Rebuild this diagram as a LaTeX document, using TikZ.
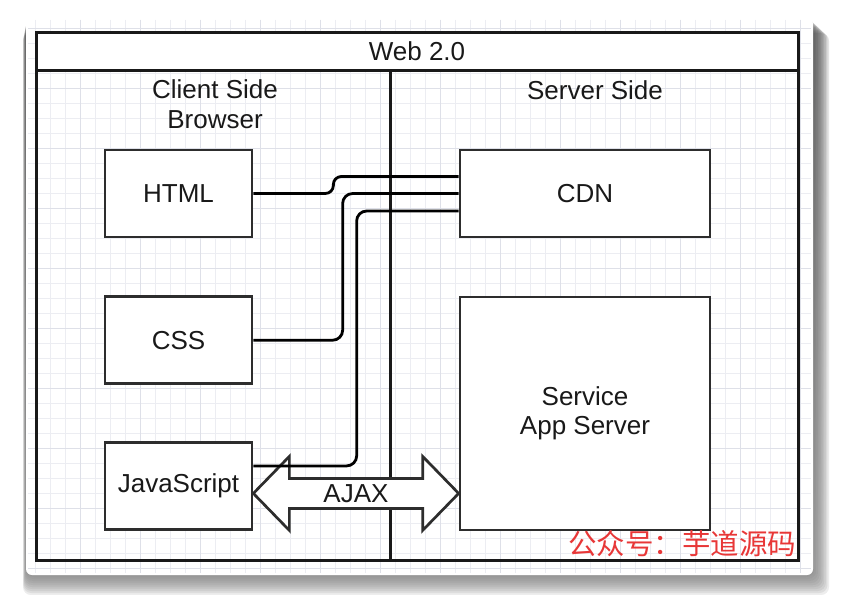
\documentclass[tikz,border=0pt]{standalone}
\usepackage{fontspec}
\setmainfont{Liberation Sans}
\newfontfamily\cjkfont{Noto Sans CJK SC}
\usetikzlibrary{arrows.meta, positioning, calc}
\definecolor{ink}{RGB}{25, 25, 25}
\definecolor{boxgray}{RGB}{45, 45, 45}
\definecolor{gridminor}{RGB}{236, 237, 242}
\definecolor{gridmajor}{RGB}{222, 224, 232}
\definecolor{shade}{RGB}{95, 125, 135}
\definecolor{wmred}{RGB}{232, 55, 55}
\tikzset{
    labelfont/.style={font=\fontsize{26}{29.5}\selectfont, text=ink},
    box/.style={labelfont, draw=boxgray, line width=2.7pt, fill=white, minimum width=147pt, minimum height=87pt, inner sep=0pt},
    wire/.style={line width=2.8pt, rounded corners=8pt},
    frame/.style={draw=ink, line width=3pt}
}

\begin{document}
\begin{tikzpicture}[x=1pt, y=-1pt]
        \useasboundingbox (0,0) rectangle (853,594);

        % card with its shadow
        \foreach \i in {1,...,10}
            \fill[shade, opacity=0.08, rounded corners=8pt] (26-0.3*\i, 18+1.5*\i) rectangle (813+1.6*\i, 575+2*\i);
        \fill[white, rounded corners=6pt] (26,18) rectangle (813,575);

        % grid paper
        \foreach \x in {35,50,...,800}
            \draw[gridminor, line width=0.8pt] (\x,20) -- (\x,573);
        \foreach \y in {28,43,...,568}
            \draw[gridminor, line width=0.8pt] (28,\y) -- (811,\y);
        \foreach \x in {80,140,...,800}
            \draw[gridmajor, line width=0.8pt] (\x,20) -- (\x,573);
        \foreach \y in {28,88,...,568}
            \draw[gridmajor, line width=0.8pt] (28,\y) -- (811,\y);

        % pool and lanes
        \node[frame, fill=white, minimum width=762pt, minimum height=37pt, labelfont, inner sep=0pt] (title) at (417,51.5) {Web 2.0};
        \node[frame, minimum width=762pt, minimum height=490pt] (pool) at (417,315) {};
        \coordinate (split) at (390,70);
        \draw[frame] (split) -- (split |- pool.south);
        \node[labelfont, align=center] (client) at (215,104) {Client Side\\Browser};
        \node[labelfont] (server) at (595,90) {Server Side};

        % client side
        \node[box] (html) at (178.5,193.5) {HTML};
        \node[box, below=57pt of html] (css) {CSS};
        \node[box, below=56pt of css] (js) {JavaScript};

        % server side
        \node[box, minimum width=250pt] (cdn) at (585,193.5) {CDN};
        \node[box, minimum width=250pt, minimum height=233pt, align=center] (app) at (585,413.5) {Service\\App Server};

        % AJAX, a double arrow from tip to tip
        \coordinate (al) at ([yshift=-7.5pt]js.east);
        \coordinate (ar) at (app.west |- al);
        \draw[draw=boxgray, line width=2.7pt, fill=white] (al) -- ([shift={(36,-37)}]al) -- ([shift={(36,-15)}]al)
            -- ([shift={(-36,-15)}]ar) -- ([shift={(-36,-37)}]ar) -- (ar) -- ([shift={(-36,37)}]ar)
            -- ([shift={(-36,15)}]ar) -- ([shift={(36,15)}]al) -- ([shift={(36,37)}]al) -- cycle;
        \node[labelfont] (ajax) at ($(al)!0.5!(ar)$) {AJAX};

        % static files from the CDN
        \draw[wire] (html.east) -- ++(80,0) -- ++(0,-17) -- ([yshift=17pt]cdn.west);
        \draw[wire, rounded corners=10pt] (css.east) -| ([xshift=-116pt]cdn.west) -- (cdn.west);
        \draw[wire, rounded corners=10pt] ([yshift=20pt]js.east) -| ([xshift=-102pt, yshift=-17.5pt]cdn.west) -- ([yshift=-17.5pt]cdn.west);

        \node[font=\cjkfont\fontsize{28.5}{30}\selectfont, text=wmred] (mark) at (682,544) {公众号：芋道源码};
    \end{tikzpicture}
\end{document}
